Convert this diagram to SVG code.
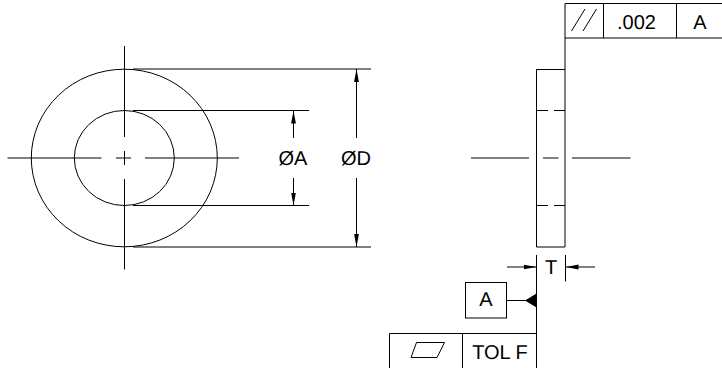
<svg xmlns="http://www.w3.org/2000/svg" width="722" height="368" viewBox="0 0 722 368">
<defs>
<marker id="arr" markerUnits="userSpaceOnUse" markerWidth="13" markerHeight="6" refX="13" refY="3" orient="auto"><path d="M13 3L0 0.6V5.4Z" fill="#000"/></marker>
</defs>
<style>
.l{fill:none;stroke:#000;stroke-width:1}
.d{fill:none;stroke:#000;stroke-width:1;marker-end:url(#arr)}
text{font-family:"Liberation Sans",Arial,sans-serif;fill:#000;text-anchor:middle;text-rendering:geometricPrecision}
.t{font-size:20px}
</style>
<g id="front-view">
<ellipse class="l" cx="124.3" cy="158" rx="93" ry="88.8"/>
<ellipse class="l" cx="124.3" cy="158" rx="50" ry="47.5"/>
<path class="l" d="M124.5 46V137M124.5 151V165M124.500 179V269.500M7.500 158H101.500M116 158H131M145 158H239"/>
</g>
<g id="side-view">
<path class="l" d="M536.500 69.500H565M536.500 69V247M536.500 247H565M565 69V247"/>
<path class="l" d="M536.500 110.500H548M554 110.500H565M536.500 205.500H548M554 205.500H565M471 158H529M543 158H558.500M572 158H630.500"/>
</g>
<g id="connectors">
<path class="l" d="M133 69H371M133 247H371M133 110.500H309M133 205.500H309"/>
<path class="d" d="M356.500 138V69"/>
<path class="d" d="M356.500 178V247"/>
<path class="d" d="M293.500 138V110.500"/>
<path class="d" d="M293.500 178V205.500"/>
<path class="l" d="M536.500 255V368M565.500 255V281.500"/>
<path class="d" d="M507 267H536.500"/>
<path class="d" d="M595 267H565.500"/>
<path class="l" d="M506 300.500H536"/>
<path d="M525 300.500L536.500 293.500V307.500Z" fill="#000"/>
<path class="l" d="M565 38V69"/>
</g>
<g id="label-a"><text class="t" x="293" y="165">ØA</text></g>
<g id="label-d"><text class="t" x="356" y="165">ØD</text></g>
<g id="label-t"><text class="t" x="551" y="273.500">T</text></g>
<g id="parallelism-frame">
<path class="l" d="M722 3.500H565V38H722M603.500 3.500V38M676.500 3.500V38"/>
<path class="l" d="M571.500 31L585 9M583 31L596.500 9"/>
<text class="t" x="636.500" y="28.500">.002</text>
<text class="t" x="700" y="28.500">A</text>
</g>
<g id="datum-a">
<rect class="l" x="465.500" y="282.500" width="41" height="35.500"/>
<text class="t" x="485.800" y="306">A</text>
</g>
<g id="flatness-frame">
<path class="l" d="M389.500 368V333.500H536.500M462.500 333.500V368"/>
<path class="l" d="M416.500 342.500H444.500L437 357.500H411Z"/>
<text class="t" x="500" y="359">TOL F</text>
</g>
</svg>
